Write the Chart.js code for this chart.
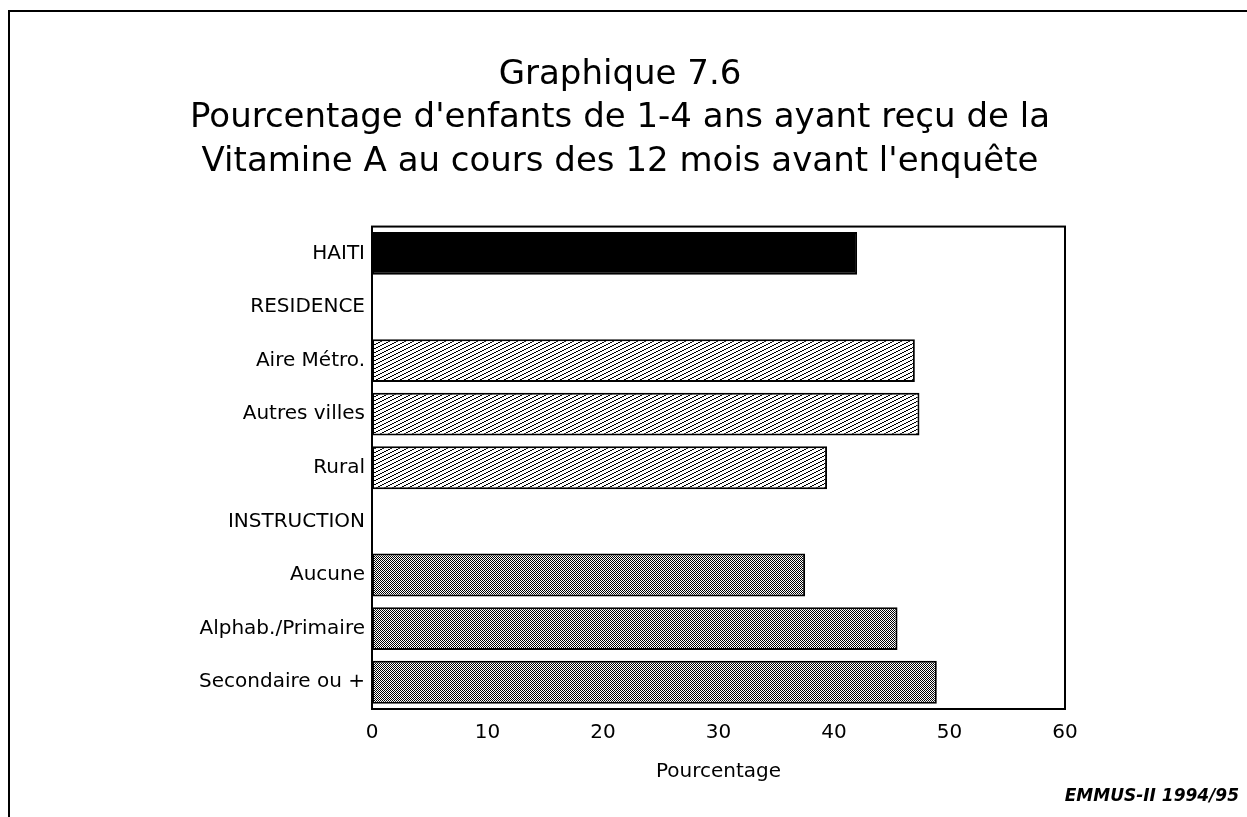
<!DOCTYPE html>
<html>
<head>
<meta charset="utf-8">
<script src="https://cdn.jsdelivr.net/npm/chart.js@4/dist/chart.umd.min.js"></script>
<style>
html,body{margin:0;padding:0;background:#fff;}
#wrap{width:1247px;height:817px;position:relative;}
</style>
</head>
<body>
<div id="wrap"><canvas id="c" width="1247" height="817"></canvas></div>
<script>
const categories = ["HAITI","RESIDENCE","Aire Métro.","Autres villes","Rural","INSTRUCTION","Aucune","Alphab./Primaire","Secondaire ou +"];
const values = [42.0, null, 47.0, 47.4, 39.4, null, 37.5, 45.5, 48.9];
const groups = ["total","header","residence","residence","residence","header","instruction","instruction","instruction"];
const xTicks = [0,10,20,30,40,50,60];
const titleLines = ["Graphique 7.6","Pourcentage d'enfants de 1-4 ans ayant reçu de la","Vitamine A au cours des 12 mois avant l'enquête"];
const xTitle = "Pourcentage";
const sourceNote = "EMMUS-II 1994/95";

const FONT = '"DejaVu Sans", "Liberation Sans", Arial, sans-serif';

function hatchPattern(){
  const c = document.createElement('canvas'); c.width = 8; c.height = 4;
  const g = c.getContext('2d');
  g.fillStyle = '#fff'; g.fillRect(0,0,8,4);
  g.fillStyle = '#000';
  [[0,3],[1,3],[2,2],[3,2],[4,1],[5,1],[6,0],[7,0]].forEach(p=>g.fillRect(p[0],p[1],1,1));
  return g.createPattern(c,'repeat');
}
function dotPattern(){
  const c = document.createElement('canvas'); c.width = 2; c.height = 2;
  const g = c.getContext('2d');
  g.fillStyle = '#fff'; g.fillRect(0,0,2,2);
  g.fillStyle = '#000'; g.fillRect(0,0,1,1); g.fillRect(1,1,1,1);
  return g.createPattern(c,'repeat');
}
const fills = {total:'#000', header:'#fff', residence:hatchPattern(), instruction:dotPattern()};

const framePlugin = {
  id:'frame',
  afterDraw(chart){
    const ctx = chart.ctx, a = chart.chartArea;
    ctx.save();
    ctx.strokeStyle = '#000'; ctx.lineWidth = 2;
    ctx.strokeRect(a.left, a.top, a.right - a.left, a.bottom - a.top);
    ctx.lineWidth = 2;
    ctx.beginPath();
    ctx.moveTo(9, 817); ctx.lineTo(9, 11); ctx.lineTo(1247, 11);
    ctx.stroke();
    ctx.fillStyle = '#000';
    ctx.font = 'italic bold 17px ' + FONT;
    ctx.textAlign = 'right'; ctx.textBaseline = 'middle';
    ctx.fillText(sourceNote, 1239, 797);
    ctx.restore();
  }
};

new Chart(document.getElementById('c'), {
  type:'bar',
  data:{
    labels:categories,
    datasets:[{
      data:values,
      backgroundColor:groups.map(g=>fills[g]),
      borderColor:'#000',
      borderWidth:2,
      borderSkipped:false,
      barPercentage:0.8,
      categoryPercentage:1.0
    }]
  },
  options:{
    indexAxis:'y',
    responsive:false,
    animation:false,
    devicePixelRatio:1,
    layout:{padding:{top:53,left:175,right:182,bottom:33}},
    plugins:{
      legend:{display:false},
      tooltip:{enabled:false},
      title:{
        display:true,
        text:titleLines,
        color:'#000',
        font:{family:FONT,size:34,weight:'normal',lineHeight:1.28},
        padding:{top:0,bottom:43}
      }
    },
    scales:{
      x:{
        min:0,max:60,
        afterBuildTicks(s){ s.ticks = xTicks.map(v=>({value:v})); },
        grid:{display:false,drawTicks:false},
        border:{display:true,color:'#000',width:2},
        ticks:{color:'#000',padding:12,font:{family:FONT,size:20}},
        title:{display:true,text:xTitle,color:'#000',padding:{top:15,bottom:0},font:{family:FONT,size:20}},
        afterFit(s){ s.height = 75; }
      },
      y:{
        grid:{display:false,drawTicks:false},
        border:{display:true,color:'#000',width:2},
        ticks:{color:'#000',padding:7,font:{family:FONT,size:20}},
        afterFit(s){ s.width = 197; }
      }
    }
  },
  plugins:[framePlugin]
});
</script>
</body>
</html>
